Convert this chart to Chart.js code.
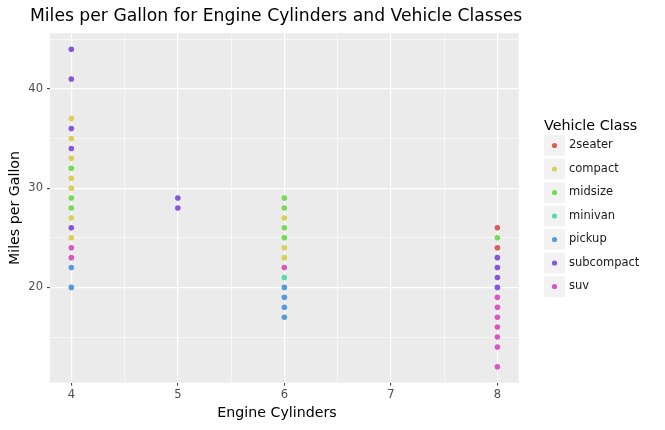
<!DOCTYPE html>
<html>
<head>
<meta charset="utf-8">
<script src="https://cdn.jsdelivr.net/npm/chart.js@4.4.0/dist/chart.umd.min.js"></script>
<style>
  html, body { margin: 0; padding: 0; background: #fff; }
</style>
</head>
<body>
<canvas id="mpg-chart" width="665" height="430"></canvas>
<script>
// categories and their colours
const vehicleClasses = ["2seater", "compact", "midsize", "minivan", "pickup", "subcompact", "suv"];
const classColors = ["#db5f57", "#dbd057", "#75db57", "#57dbaa", "#579bdb", "#8557db", "#db57c0"];

// [cylinders, highway mpg] per class, as visible in the picture
const twoSeater = [[8, 26], [8, 24]];
const compact = [[4, 37], [4, 35], [4, 33], [4, 31], [4, 30], [4, 27], [4, 25], [6, 27], [6, 24], [6, 23]];
const midsize = [[4, 32], [4, 29], [4, 28], [6, 29], [6, 28], [6, 26], [6, 25], [8, 25]];
const minivan = [[6, 21]];
const pickup = [[4, 22], [4, 20], [6, 20], [6, 19], [6, 18], [6, 17]];
const subcompact = [[4, 44], [4, 41], [4, 36], [4, 34], [4, 26], [5, 29], [5, 28], [8, 23], [8, 22], [8, 21], [8, 20]];
const suv = [[4, 24], [4, 23], [6, 22], [8, 19], [8, 18], [8, 17], [8, 16], [8, 15], [8, 14], [8, 12]];

const classPoints = [twoSeater, compact, midsize, minivan, pickup, subcompact, suv];

// axis ticks (major + minor gridlines)
const xTicks = [4, 5, 6, 7, 8];
const xMinor = [4.5, 5.5, 6.5, 7.5];
const yTicks = [20, 30, 40];
const yMinor = [15, 25, 35, 45];

const FONT = "'DejaVu Sans', sans-serif";

const datasets = vehicleClasses.map((name, i) => ({
	label: name,
	data: classPoints[i].map(p => ({ x: p[0], y: p[1] })),
	backgroundColor: classColors[i],
	borderWidth: 0,
	pointRadius: 2.8,
	pointHoverRadius: 2.8,
}));

const isMinor = (ctx) => ctx.tick && !Number.isInteger(ctx.tick.value);
const isMinorY = (ctx) => ctx.tick && ctx.tick.value % 10 !== 0;

const ggPanel = {
	id: "ggPanel",
	beforeDraw(chart) {
		const { ctx, chartArea: a } = chart;
		ctx.save();
		ctx.fillStyle = "#ebebeb";
		ctx.fillRect(a.left, a.top, a.right - a.left, a.bottom - a.top);
		ctx.restore();
	},
	afterDraw(chart) {
		const ctx = chart.ctx;
		ctx.save();
		ctx.fillStyle = "#000";
		ctx.textBaseline = "middle";
		ctx.textAlign = "left";
		// title
		ctx.font = "17.2px " + FONT;
		ctx.fillText("Miles per Gallon for Engine Cylinders and Vehicle Classes", 30, 17);

		// x axis title
		ctx.font = "14.2px " + FONT;
		ctx.textAlign = "center";
		ctx.fillText("Engine Cylinders", 277, 413);

		// legend
		ctx.textAlign = "left";
		ctx.font = "14.3px " + FONT;
		ctx.fillText("Vehicle Class", 544, 126);
		ctx.font = "11.5px " + FONT;
		chart.data.datasets.forEach((ds, i) => {
			const cy = 145.5 + i * 23.5;
			ctx.fillStyle = "#f2f2f2";
			ctx.fillRect(544, cy - 10.4, 21, 20.8);
			ctx.fillStyle = ds.backgroundColor;
			ctx.beginPath();
			ctx.arc(554.5, cy, 2.6, 0, Math.PI * 2);
			ctx.fill();
			ctx.fillStyle = "#1a1a1a";
			ctx.fillText(ds.label, 569, cy);
		});
		ctx.restore();
	},
};

new Chart(document.getElementById("mpg-chart"), {
	type: "scatter",
	data: { datasets },
	plugins: [ggPanel],
	options: {
		responsive: false,
		animation: false,
		events: [],
		layout: {
			padding: { left: 0, top: 33.3, right: 146.3, bottom: 0 },
		},
		plugins: {
			legend: { display: false },
			tooltip: { enabled: false },
		},
		scales: {
			x: {
				type: "linear",
				min: 3.8,
				max: 8.2,
				afterBuildTicks: (scale) => {
					scale.ticks = xTicks.concat(xMinor).sort((a, b) => a - b).map(v => ({ value: v }));
				},
				afterFit: (scale) => { scale.height = 47.3; },
				border: { display: false },
				grid: {
					color: "#ffffff",
					lineWidth: (ctx) => (isMinor(ctx) ? 0.6 : 1.2),
					drawTicks: true,
					tickLength: 3,
					tickWidth: 1,
					tickColor: (ctx) => (isMinor(ctx) ? "rgba(0,0,0,0)" : "#333333"),
				},
				ticks: {
					autoSkip: false,
					maxRotation: 0,
					padding: 2,
					color: "#4d4d4d",
					font: { family: FONT, size: 11.5 },
					callback: (v) => (Number.isInteger(v) ? String(v) : ""),
				},
			},
			y: {
				type: "linear",
				min: 10.4,
				max: 45.6,
				afterBuildTicks: (scale) => {
					scale.ticks = yTicks.concat(yMinor).sort((a, b) => a - b).map(v => ({ value: v }));
				},
				afterFit: (scale) => { scale.width = 50; },
				border: { display: false },
				grid: {
					color: "#ffffff",
					lineWidth: (ctx) => (isMinorY(ctx) ? 0.6 : 1.2),
					drawTicks: true,
					tickLength: 3,
					tickWidth: 1,
					tickColor: (ctx) => (isMinorY(ctx) ? "rgba(0,0,0,0)" : "#333333"),
				},
				ticks: {
					autoSkip: false,
					padding: 4,
					color: "#4d4d4d",
					font: { family: FONT, size: 11.5 },
					callback: (v) => (v % 10 === 0 ? String(v) : ""),
				},
				title: {
					display: true,
					text: "Miles per Gallon",
					color: "#000",
					font: { family: FONT, size: 14.2, lineHeight: 1 },
					padding: { top: 8, bottom: 0 },
				},
			},
		},
	},
});
</script>
</body>
</html>
